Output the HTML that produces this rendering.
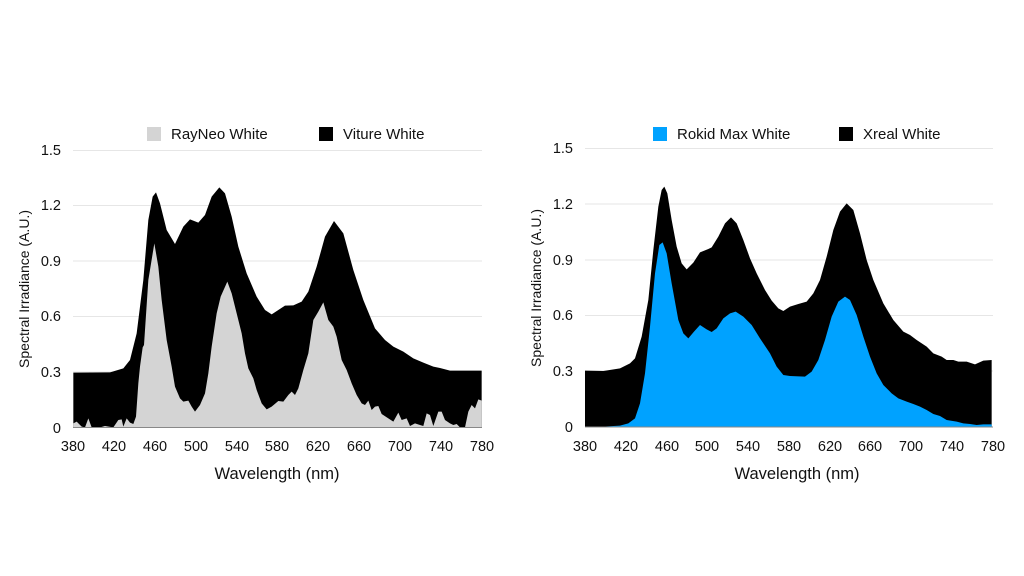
<!DOCTYPE html>
<html><head><meta charset="utf-8"><style>
html,body{margin:0;padding:0;background:#fff;}
svg{display:block;}
text{font-family:"Liberation Sans",Arial,sans-serif;fill:#111;}
</style></head><body>
<svg width="1024" height="576" viewBox="0 0 1024 576" xmlns="http://www.w3.org/2000/svg">
<rect width="1024" height="576" fill="#fff"/>
<!-- LEFT CHART -->
<g stroke="#e6e6e6" stroke-width="1">
<line x1="73" y1="150.5" x2="482" y2="150.5"/>
<line x1="73" y1="205.5" x2="482" y2="205.5"/>
<line x1="73" y1="261" x2="482" y2="261"/>
<line x1="73" y1="316.5" x2="482" y2="316.5"/>
<line x1="73" y1="372" x2="482" y2="372"/>
</g>
<g transform="translate(60,140) scale(0.33333)">
<polygon fill="#000" points="40,862 40,698 150,697 190,685 210,660 230,580 250,420 265,240 278,170 288,157 300,190 320,270 345,312 370,260 390,238 415,248 435,225 455,170 478,142 495,160 515,230 535,320 560,400 590,470 615,510 635,523 655,510 675,497 700,496 725,485 745,455 770,380 795,290 822,243 850,280 880,390 910,480 945,565 975,600 1000,620 1030,635 1060,655 1090,668 1120,680 1140,684 1170,692 1265,692 1265,862"/>
<polygon fill="#d4d4d4" points="40,862 40,850 50,845 65,860 75,862 85,835 95,862 120,862 135,858 160,862 175,840 185,838 190,860 200,835 210,848 220,852 228,830 235,730 240,680 248,622 252,615 265,420 283,310 295,380 305,480 320,600 335,680 345,740 360,775 370,785 385,782 395,800 405,815 420,795 435,760 445,700 455,620 470,520 482,470 502,425 515,460 530,520 545,580 555,640 565,685 580,715 590,750 605,790 620,808 635,800 655,783 670,785 685,765 695,755 705,765 715,745 730,690 745,640 760,540 775,515 790,487 805,540 820,560 830,590 845,660 860,690 875,730 890,765 905,790 915,795 925,782 935,810 945,800 955,798 965,822 985,835 1000,845 1015,818 1025,840 1040,835 1050,858 1065,850 1080,855 1090,858 1100,820 1110,825 1120,858 1135,815 1145,815 1155,840 1170,850 1180,855 1190,852 1200,862 1215,862 1225,815 1235,795 1245,805 1255,778 1265,782 1265,862"/>
</g>
<line x1="73" y1="427.5" x2="482" y2="427.5" stroke="#888" stroke-width="1"/>
<g font-size="14.5" text-anchor="end">
<text x="61" y="155">1.5</text><text x="61" y="210">1.2</text><text x="61" y="266">0.9</text><text x="61" y="321">0.6</text><text x="61" y="377">0.3</text><text x="61" y="433">0</text>
</g>
<g font-size="14.5" text-anchor="middle">
<text x="73" y="451">380</text><text x="114" y="451">420</text><text x="155" y="451">460</text><text x="196" y="451">500</text><text x="237" y="451">540</text><text x="277" y="451">580</text><text x="318" y="451">620</text><text x="359" y="451">660</text><text x="400" y="451">700</text><text x="441" y="451">740</text><text x="482" y="451">780</text>
</g>
<text x="277" y="479" font-size="16.5" text-anchor="middle">Wavelength (nm)</text>
<text transform="translate(29,289) rotate(-90)" font-size="14" text-anchor="middle">Spectral Irradiance (A.U.)</text>
<rect x="147" y="127" width="14" height="14" fill="#d4d4d4"/>
<text x="171" y="139" font-size="15">RayNeo White</text>
<rect x="319" y="127" width="14" height="14" fill="#000"/>
<text x="343" y="139" font-size="15">Viture White</text>

<!-- RIGHT CHART -->
<g stroke="#e6e6e6" stroke-width="1">
<line x1="585" y1="148.5" x2="993" y2="148.5"/>
<line x1="585" y1="204" x2="993" y2="204"/>
<line x1="585" y1="260" x2="993" y2="260"/>
<line x1="585" y1="315.5" x2="993" y2="315.5"/>
<line x1="585" y1="371" x2="993" y2="371"/>
</g>
<g transform="translate(570,140) scale(0.33333)">
<polygon fill="#000" points="45,860 45,692 100,693 150,685 180,670 195,655 215,590 235,480 250,330 265,200 275,150 283,140 292,160 305,240 320,320 335,370 350,388 370,368 390,337 415,327 425,322 445,290 465,250 483,232 500,250 520,300 540,355 560,400 585,450 605,482 625,505 640,513 660,500 685,492 710,485 730,460 750,420 770,350 790,270 810,215 830,190 850,210 870,280 890,360 910,420 940,490 970,540 1000,575 1020,585 1040,600 1070,620 1090,640 1115,650 1130,660 1150,660 1165,665 1190,665 1215,673 1240,662 1265,660 1265,860"/>
<polygon fill="#00a2ff" points="45,860 100,860 150,857 175,850 195,835 210,790 225,700 240,560 255,400 268,315 278,307 290,340 305,430 325,540 340,580 355,595 372,575 390,555 410,568 425,576 440,565 460,535 480,520 497,515 520,530 545,555 570,595 600,640 620,680 640,705 660,708 705,710 725,695 745,660 765,600 785,530 805,485 825,470 840,480 860,525 880,590 900,650 920,700 940,735 965,760 985,775 1010,785 1030,792 1050,800 1070,810 1090,822 1110,828 1130,840 1160,845 1180,850 1200,852 1220,855 1240,853 1265,853 1265,860"/>
</g>
<line x1="585" y1="427" x2="993" y2="427" stroke="#888" stroke-width="1"/>
<g font-size="14.5" text-anchor="end">
<text x="573" y="153">1.5</text><text x="573" y="209">1.2</text><text x="573" y="265">0.9</text><text x="573" y="320">0.6</text><text x="573" y="376">0.3</text><text x="573" y="432">0</text>
</g>
<g font-size="14.5" text-anchor="middle">
<text x="585" y="451">380</text><text x="626" y="451">420</text><text x="667" y="451">460</text><text x="707" y="451">500</text><text x="748" y="451">540</text><text x="789" y="451">580</text><text x="830" y="451">620</text><text x="870" y="451">660</text><text x="911" y="451">700</text><text x="952" y="451">740</text><text x="993" y="451">780</text>
</g>
<text x="797" y="479" font-size="16.5" text-anchor="middle">Wavelength (nm)</text>
<text transform="translate(541,288) rotate(-90)" font-size="14" text-anchor="middle">Spectral Irradiance (A.U.)</text>
<rect x="653" y="127" width="14" height="14" fill="#00a2ff"/>
<text x="677" y="139" font-size="15">Rokid Max White</text>
<rect x="839" y="127" width="14" height="14" fill="#000"/>
<text x="863" y="139" font-size="15">Xreal White</text>
</svg>
</body></html>
